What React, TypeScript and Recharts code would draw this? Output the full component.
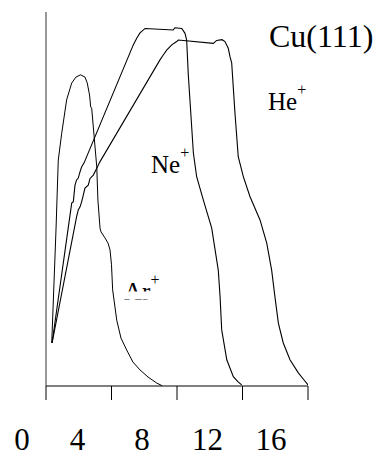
import React from "react";
import { LineChart, Line, XAxis, YAxis } from "recharts";

// Scattered-ion yield vs. energy, one trace per projectile (x: 0–16, y: arbitrary units 0–100)
const AR_PLUS = [
  { x: 0.35, y: 11.5 }, { x: 0.61, y: 41.7 }, { x: 0.75, y: 60.4 }, { x: 0.96, y: 67.6 },
  { x: 1.26, y: 76.5 }, { x: 1.57, y: 81.0 }, { x: 1.83, y: 82.6 }, { x: 2.11, y: 83.2 },
  { x: 2.38, y: 82.6 }, { x: 2.52, y: 81.0 }, { x: 2.66, y: 77.8 }, { x: 2.73, y: 74.6 },
  { x: 2.79, y: 74.3 }, { x: 3.1, y: 58.6 }, { x: 3.17, y: 49.7 }, { x: 3.3, y: 42.2 },
  { x: 3.36, y: 41.2 }, { x: 3.6, y: 39.6 }, { x: 3.79, y: 38.2 }, { x: 3.91, y: 36.4 },
  { x: 4.0, y: 32.4 }, { x: 4.07, y: 25.7 }, { x: 4.32, y: 17.6 }, { x: 4.58, y: 12.8 },
  { x: 4.93, y: 9.6 }, { x: 5.31, y: 6.4 }, { x: 5.74, y: 4.3 }, { x: 6.23, y: 2.4 },
  { x: 6.76, y: 0.8 }, { x: 7.08, y: 0.1 },
];

const NE_PLUS = [
  { x: 0.37, y: 11.5 }, { x: 1.57, y: 48.9 }, { x: 1.67, y: 49.3 }, { x: 1.77, y: 53.7 },
  { x: 1.87, y: 55.1 }, { x: 1.97, y: 55.6 }, { x: 2.08, y: 57.3 }, { x: 2.18, y: 58.6 },
  { x: 2.32, y: 59.6 }, { x: 5.33, y: 91.2 }, { x: 5.54, y: 93.0 }, { x: 5.74, y: 94.4 },
  { x: 6.05, y: 95.6 }, { x: 7.77, y: 95.2 }, { x: 7.88, y: 95.8 }, { x: 8.29, y: 95.6 },
  { x: 8.49, y: 94.3 }, { x: 8.59, y: 92.5 }, { x: 8.69, y: 83.2 }, { x: 9.0, y: 62.3 },
  { x: 9.2, y: 56.0 }, { x: 9.61, y: 49.7 }, { x: 10.12, y: 42.2 }, { x: 10.52, y: 31.0 },
  { x: 10.63, y: 23.9 }, { x: 10.73, y: 15.0 }, { x: 11.04, y: 7.0 }, { x: 11.44, y: 2.5 },
  { x: 11.73, y: 1.1 }, { x: 11.95, y: 0.3 },
];

const HE_PLUS = [
  { x: 0.37, y: 11.5 }, { x: 1.87, y: 45.3 }, { x: 1.97, y: 47.1 }, { x: 2.08, y: 47.9 },
  { x: 2.18, y: 49.3 }, { x: 2.28, y: 51.1 }, { x: 2.38, y: 52.9 }, { x: 2.58, y: 53.7 },
  { x: 2.69, y: 55.5 }, { x: 2.89, y: 56.4 }, { x: 3.1, y: 58.2 }, { x: 3.3, y: 60.0 },
  { x: 6.96, y: 87.2 }, { x: 7.16, y: 88.5 }, { x: 7.37, y: 89.8 }, { x: 7.68, y: 91.2 },
  { x: 7.98, y: 92.1 }, { x: 8.08, y: 92.5 }, { x: 10.22, y: 91.6 }, { x: 10.42, y: 92.4 },
  { x: 10.75, y: 92.6 }, { x: 10.93, y: 92.1 }, { x: 11.13, y: 90.3 }, { x: 11.24, y: 88.0 },
  { x: 11.34, y: 86.4 }, { x: 11.54, y: 73.0 }, { x: 11.74, y: 61.3 }, { x: 12.05, y: 56.0 },
  { x: 12.46, y: 50.6 }, { x: 13.07, y: 44.4 }, { x: 13.48, y: 38.2 }, { x: 13.78, y: 31.0 },
  { x: 13.98, y: 23.9 }, { x: 14.19, y: 16.8 }, { x: 14.49, y: 11.5 }, { x: 14.9, y: 7.0 },
  { x: 15.41, y: 3.5 }, { x: 15.76, y: 1.6 }, { x: 16.0, y: 0.3 },
];

const X_TICKS = [0, 4, 8, 12, 16];

const SERIF = "'Liberation Serif', 'Times New Roman', serif";

// tick labels sit a little left of their tick marks
const LABEL_NUDGE: Record<number, number> = { 0: -24, 4: -34, 8: -35, 12: -35, 16: -37 };

function XTick(props: any) {
  const { x, y, payload } = props;
  return (
    <text
      x={x + (LABEL_NUDGE[payload.value] ?? 0)}
      y={y + 48}
      textAnchor="middle"
      fontFamily={SERIF}
      fontSize={31}
      fill="#000"
    >
      {payload.value}
    </text>
  );
}

function IonLabel({ x, y, ion }: { x: number; y: number; ion: string }) {
  return (
    <text x={x} y={y} fontFamily={SERIF} fontSize={25} fill="#000">
      {ion}
      <tspan dy={-15} fontSize={16}>+</tspan>
    </text>
  );
}

export default function App() {
  return (
    <div style={{ position: "absolute", left: 0, top: 0, width: 377, height: 457, background: "#fff" }}>
      <LineChart width={377} height={457} margin={{ top: 12, right: 69, bottom: 0, left: 0 }}>
        <XAxis
          dataKey="x"
          type="number"
          domain={[0, 16]}
          ticks={X_TICKS}
          allowDataOverflow
          height={71}
          tickSize={14}
          axisLine={{ stroke: "#000", strokeWidth: 1 }}
          tickLine={{ stroke: "#000", strokeWidth: 1 }}
          tick={<XTick />}
        />
        <YAxis
          type="number"
          domain={[0, 100]}
          width={46}
          tick={false}
          tickLine={false}
          axisLine={{ stroke: "#333", strokeWidth: 1 }}
        />
        <Line data={AR_PLUS} dataKey="y" type="linear" stroke="#000" strokeWidth={1} dot={false} isAnimationActive={false} />
        <Line data={NE_PLUS} dataKey="y" type="linear" stroke="#000" strokeWidth={1.1} dot={false} isAnimationActive={false} />
        <Line data={HE_PLUS} dataKey="y" type="linear" stroke="#000" strokeWidth={1.1} dot={false} isAnimationActive={false} />

        <text x={269} y={47} fontFamily={SERIF} fontSize={32} fill="#000">Cu(111)</text>
        <IonLabel x={268} y={110} ion="He" />
        <IonLabel x={151} y={173} ion="Ne" />
        <IonLabel x={124} y={300} ion="Ar" />
        {/* the Ar label is mostly blanked out by a white strip */}
        <rect x={121} y={291.5} width={31} height={8} fill="#fff" />
      </LineChart>
    </div>
  );
}
